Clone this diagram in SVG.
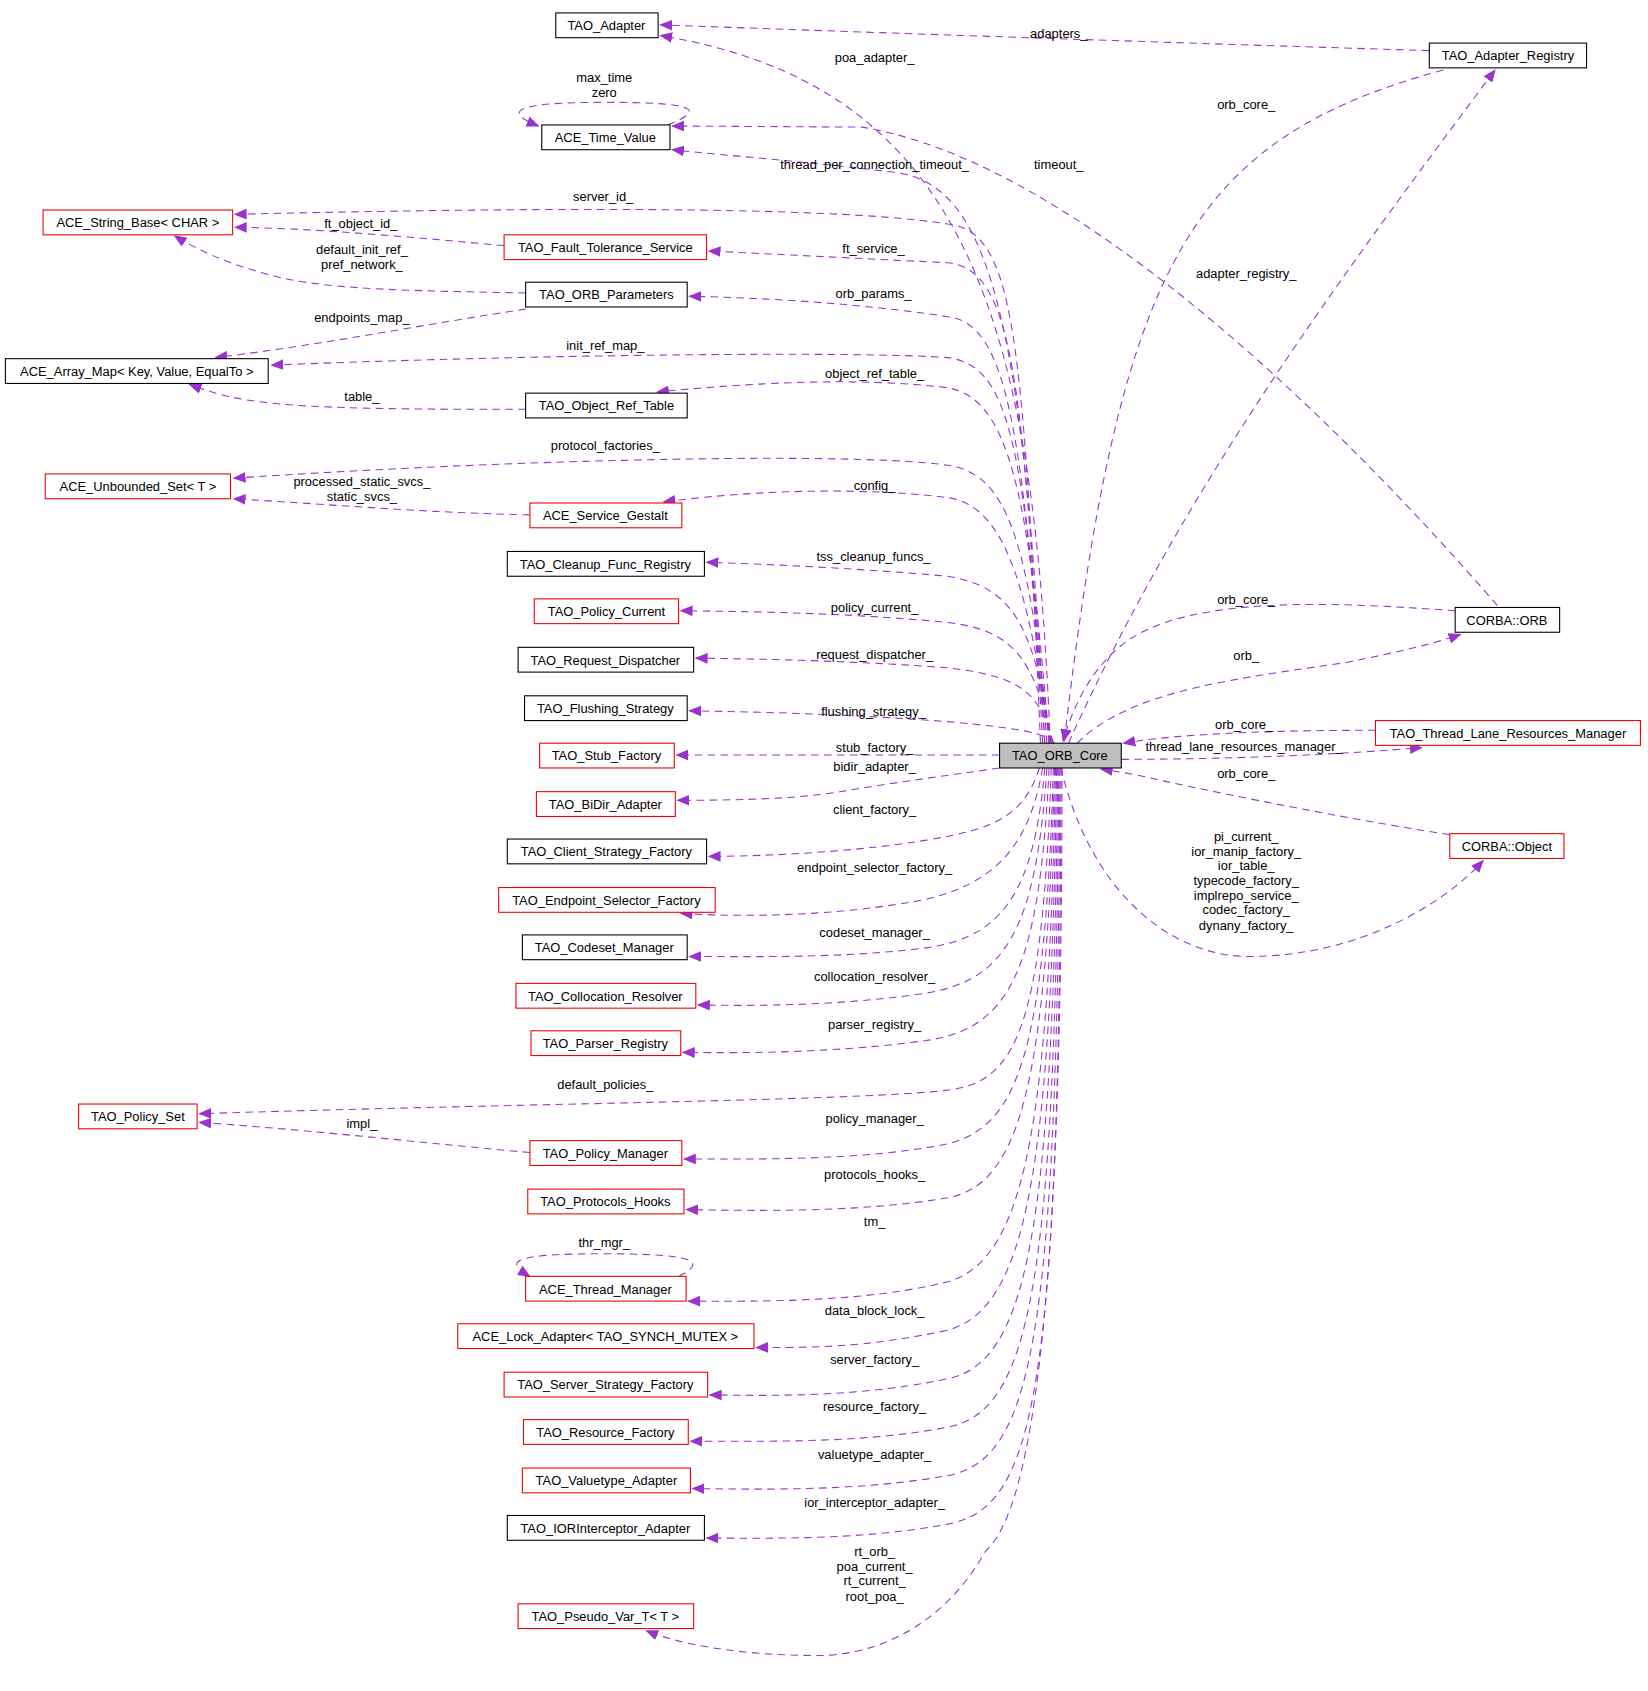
<svg xmlns="http://www.w3.org/2000/svg" width="1648" height="1691" viewBox="0 0 1648 1691">
<style>
.n rect{fill:#fff;stroke:#000;stroke-width:1}
.r rect{stroke:#e00}
.c rect{fill:#bfbfbf}
text{font-family:"Liberation Sans",Arial,sans-serif;font-size:12px;text-anchor:middle;fill:#000}
.e path{fill:none;stroke:#9a32cd;stroke-width:1;stroke-dasharray:7,5;marker-end:url(#a)}
</style>
<defs><marker id="a" markerWidth="12" markerHeight="10" refX="11" refY="5" orient="auto" markerUnits="userSpaceOnUse"><path d="M0,0 L12,5 L0,10 z" fill="#9a32cd"/></marker></defs>
<rect width="1648" height="1691" fill="#fff"/>
<g transform="scale(1.0771)">
<g class="e">
<path d="M1327,47 C1100,40 800,30 613,23"/>
<path d="M975,690 C960,300 900,80 613,33"/>
<path d="M1340,65 C1100,130 1040,250 988,688"/>
<path d="M992,690 C1100,450 1250,250 1388,65"/>
<path d="M1390,562 C1250,400 1000,150 800,118 L624,117"/>
<path d="M620,116 C660,100 640,95 560,95 C470,95 470,105 500,117"/>
<path d="M970,690 C950,300 920,170 830,160 C750,150 680,145 624,139"/>
<path d="M966,690 C950,300 940,215 880,208 C800,195 600,190 218,199"/>
<path d="M468,228 C400,222 300,212 218,211"/>
<path d="M968,690 C950,350 940,250 880,244 C800,240 720,236 658,233"/>
<path d="M488,272 C400,270 300,270 250,255 C210,245 180,230 162,219"/>
<path d="M488,287 C400,300 300,320 200,332"/>
<path d="M970,690 C950,400 935,300 880,294 C800,282 720,277 640,275"/>
<path d="M972,690 C950,400 935,340 880,332 C800,326 500,329 252,339"/>
<path d="M974,690 C955,450 935,370 880,360 C800,350 700,355 610,364"/>
<path d="M488,380 C400,380 300,380 250,374 C210,370 190,362 176,357"/>
<path d="M974,690 C955,500 935,440 880,432 C800,420 500,425 217,444"/>
<path d="M492,478 C400,476 330,470 217,463"/>
<path d="M975,690 C955,550 935,470 880,462 C800,452 700,455 616,466"/>
<path d="M976,690 C960,580 940,545 880,535 C800,528 720,524 656,522"/>
<path d="M977,690 C960,610 940,585 880,578 C800,570 720,568 632,567"/>
<path d="M978,690 C965,640 945,628 880,620 C800,614 720,612 646,611"/>
<path d="M979,690 C970,680 945,676 880,670 C800,664 720,661 640,660"/>
<path d="M928,701 L628,701"/>
<path d="M928,713 C880,720 840,725 780,735 C740,742 680,743 629,743"/>
<path d="M965,713 C950,760 920,770 860,780 C800,790 720,795 658,795"/>
<path d="M968,713 C955,790 920,820 860,835 C780,850 700,852 632,848"/>
<path d="M970,713 C960,830 930,870 860,880 C780,890 700,888 640,888"/>
<path d="M972,713 C962,860 935,910 860,922 C780,934 700,934 648,933"/>
<path d="M974,713 C965,900 938,955 860,966 C780,977 700,978 634,977"/>
<path d="M976,713 C968,950 945,1005 880,1012 C800,1022 500,1024 185,1034"/>
<path d="M492,1070 C400,1062 300,1050 185,1042"/>
<path d="M978,713 C970,980 945,1045 880,1062 C800,1078 700,1076 635,1076"/>
<path d="M979,713 C972,1000 948,1100 880,1112 C800,1126 700,1124 637,1123"/>
<path d="M980,713 C974,1050 950,1170 880,1190 C800,1210 700,1208 639,1208"/>
<path d="M630,1185 C660,1170 640,1164 560,1164 C470,1164 470,1172 492,1185"/>
<path d="M981,713 C976,1100 950,1215 880,1235 C800,1252 750,1251 702,1251"/>
<path d="M982,713 C978,1150 952,1265 880,1280 C800,1297 720,1296 659,1295"/>
<path d="M983,713 C980,1200 955,1310 880,1325 C800,1340 720,1338 641,1338"/>
<path d="M984,713 C982,1250 957,1355 880,1370 C800,1384 720,1383 643,1382"/>
<path d="M985,713 C984,1300 960,1400 880,1415 C800,1430 720,1428 656,1428"/>
<path d="M986,713 C986,1200 960,1400 915,1440 C870,1520 800,1537 760,1537 C700,1537 640,1530 600,1514"/>
<path d="M1351,567 C1250,560 1100,550 1040,600 C1010,625 995,660 987,688"/>
<path d="M1000,690 C1050,640 1150,630 1250,615 C1300,605 1330,598 1356,589"/>
<path d="M1277,678 C1200,678 1100,680 1043,690"/>
<path d="M1041,705 C1150,705 1250,700 1320,694"/>
<path d="M1346,775 C1250,760 1150,740 1080,725 C1050,718 1030,715 1022,714"/>
<path d="M985,713 C1010,820 1080,888 1160,888 C1260,888 1340,840 1377,799"/>
</g>
<g>
<text x="983" y="35">adapters_</text>
<text x="812" y="58">poa_adapter_</text>
<text x="1157" y="101">orb_core_</text>
<text x="1157" y="258">adapter_registry_</text>
<text x="983" y="157">timeout_</text>
<text x="561" y="76">max_time</text>
<text x="561" y="90">zero</text>
<text x="812" y="157">thread_per_connection_timeout_</text>
<text x="560" y="187">server_id_</text>
<text x="335" y="212">ft_object_id_</text>
<text x="811" y="235">ft_service_</text>
<text x="336" y="236">default_init_ref_</text>
<text x="336" y="250">pref_network_</text>
<text x="336" y="299">endpoints_map_</text>
<text x="811" y="277">orb_params_</text>
<text x="562" y="325">init_ref_map_</text>
<text x="812" y="351">object_ref_table_</text>
<text x="336" y="372">table_</text>
<text x="562" y="418">protocol_factories_</text>
<text x="336" y="451">processed_static_svcs_</text>
<text x="336" y="465">static_svcs_</text>
<text x="812" y="455">config_</text>
<text x="811" y="521">tss_cleanup_funcs_</text>
<text x="812" y="568">policy_current_</text>
<text x="812" y="612">request_dispatcher_</text>
<text x="811" y="665">flushing_strategy_</text>
<text x="812" y="698">stub_factory_</text>
<text x="812" y="716">bidir_adapter_</text>
<text x="812" y="756">client_factory_</text>
<text x="812" y="810">endpoint_selector_factory_</text>
<text x="812" y="870">codeset_manager_</text>
<text x="812" y="911">collocation_resolver_</text>
<text x="812" y="955">parser_registry_</text>
<text x="562" y="1011">default_policies_</text>
<text x="336" y="1047">impl_</text>
<text x="812" y="1043">policy_manager_</text>
<text x="812" y="1095">protocols_hooks_</text>
<text x="812" y="1138">tm_</text>
<text x="561" y="1158">thr_mgr_</text>
<text x="812" y="1221">data_block_lock_</text>
<text x="812" y="1266">server_factory_</text>
<text x="812" y="1310">resource_factory_</text>
<text x="812" y="1355">valuetype_adapter_</text>
<text x="812" y="1399">ior_interceptor_adapter_</text>
<text x="812" y="1445">rt_orb_</text>
<text x="812" y="1459">poa_current_</text>
<text x="812" y="1472">rt_current_</text>
<text x="812" y="1486">root_poa_</text>
<text x="1157" y="561">orb_core_</text>
<text x="1157" y="613">orb_</text>
<text x="1155" y="677">orb_core_</text>
<text x="1155" y="697">thread_lane_resources_manager_</text>
<text x="1157" y="722">orb_core_</text>
<text x="1157" y="781">pi_current_</text>
<text x="1157" y="795">ior_manip_factory_</text>
<text x="1157" y="808">ior_table_</text>
<text x="1157" y="822">typecode_factory_</text>
<text x="1157" y="836">implrepo_service_</text>
<text x="1157" y="849">codec_factory_</text>
<text x="1157" y="863">dynany_factory_</text>
</g>
<g id="n_adapter" class="n"><rect x="516" y="12" width="95" height="23"/><text x="563" y="28">TAO_Adapter</text></g>
<g id="n_adreg" class="n"><rect x="1327" y="40" width="146" height="23"/><text x="1400" y="56">TAO_Adapter_Registry</text></g>
<g id="n_time" class="n"><rect x="503" y="116" width="119" height="23"/><text x="562" y="132">ACE_Time_Value</text></g>
<g id="n_strbase" class="n r"><rect x="40" y="195" width="176" height="23"/><text x="128" y="211">ACE_String_Base&lt; CHAR &gt;</text></g>
<g id="n_fts" class="n r"><rect x="468" y="218" width="188" height="23"/><text x="562" y="234">TAO_Fault_Tolerance_Service</text></g>
<g id="n_orbparams" class="n"><rect x="488" y="262" width="150" height="23"/><text x="563" y="278">TAO_ORB_Parameters</text></g>
<g id="n_arraymap" class="n"><rect x="5" y="333" width="244" height="23"/><text x="127" y="349">ACE_Array_Map&lt; Key, Value, EqualTo &gt;</text></g>
<g id="n_ort" class="n"><rect x="488" y="365" width="150" height="23"/><text x="563" y="381">TAO_Object_Ref_Table</text></g>
<g id="n_uset" class="n r"><rect x="42" y="440" width="172" height="23"/><text x="128" y="456">ACE_Unbounded_Set&lt; T &gt;</text></g>
<g id="n_gestalt" class="n r"><rect x="492" y="467" width="141" height="23"/><text x="562" y="483">ACE_Service_Gestalt</text></g>
<g id="n_cleanup" class="n"><rect x="471" y="512" width="183" height="23"/><text x="562" y="528">TAO_Cleanup_Func_Registry</text></g>
<g id="n_polcur" class="n r"><rect x="496" y="556" width="134" height="23"/><text x="563" y="572">TAO_Policy_Current</text></g>
<g id="n_reqdisp" class="n"><rect x="481" y="601" width="163" height="23"/><text x="562" y="617">TAO_Request_Dispatcher</text></g>
<g id="n_flush" class="n"><rect x="487" y="646" width="151" height="23"/><text x="562" y="662">TAO_Flushing_Strategy</text></g>
<g id="n_stub" class="n r"><rect x="501" y="690" width="125" height="23"/><text x="563" y="706">TAO_Stub_Factory</text></g>
<g id="n_bidir" class="n r"><rect x="498" y="735" width="129" height="23"/><text x="562" y="751">TAO_BiDir_Adapter</text></g>
<g id="n_client" class="n"><rect x="471" y="779" width="185" height="23"/><text x="563" y="795">TAO_Client_Strategy_Factory</text></g>
<g id="n_endpoint" class="n r"><rect x="463" y="824" width="201" height="23"/><text x="563" y="840">TAO_Endpoint_Selector_Factory</text></g>
<g id="n_codeset" class="n"><rect x="485" y="868" width="153" height="23"/><text x="561" y="884">TAO_Codeset_Manager</text></g>
<g id="n_colloc" class="n r"><rect x="479" y="913" width="167" height="23"/><text x="562" y="929">TAO_Collocation_Resolver</text></g>
<g id="n_parser" class="n r"><rect x="493" y="957" width="139" height="23"/><text x="562" y="973">TAO_Parser_Registry</text></g>
<g id="n_polset" class="n r"><rect x="73" y="1025" width="110" height="23"/><text x="128" y="1041">TAO_Policy_Set</text></g>
<g id="n_polmgr" class="n r"><rect x="492" y="1059" width="141" height="23"/><text x="562" y="1075">TAO_Policy_Manager</text></g>
<g id="n_prothooks" class="n r"><rect x="490" y="1104" width="145" height="23"/><text x="562" y="1120">TAO_Protocols_Hooks</text></g>
<g id="n_thrmgr" class="n r"><rect x="488" y="1185" width="149" height="23"/><text x="562" y="1201">ACE_Thread_Manager</text></g>
<g id="n_lock" class="n r"><rect x="425" y="1229" width="275" height="23"/><text x="562" y="1245">ACE_Lock_Adapter&lt; TAO_SYNCH_MUTEX &gt;</text></g>
<g id="n_server" class="n r"><rect x="468" y="1274" width="189" height="23"/><text x="562" y="1290">TAO_Server_Strategy_Factory</text></g>
<g id="n_resource" class="n r"><rect x="486" y="1318" width="153" height="23"/><text x="562" y="1334">TAO_Resource_Factory</text></g>
<g id="n_valuetype" class="n r"><rect x="485" y="1363" width="156" height="23"/><text x="563" y="1379">TAO_Valuetype_Adapter</text></g>
<g id="n_ior" class="n"><rect x="471" y="1407" width="183" height="23"/><text x="562" y="1423">TAO_IORInterceptor_Adapter</text></g>
<g id="n_pseudo" class="n r"><rect x="481" y="1489" width="163" height="23"/><text x="562" y="1505">TAO_Pseudo_Var_T&lt; T &gt;</text></g>
<g id="n_core" class="n c"><rect x="928" y="690" width="113" height="23"/><text x="984" y="706">TAO_ORB_Core</text></g>
<g id="n_orb" class="n"><rect x="1351" y="564" width="97" height="23"/><text x="1399" y="580">CORBA::ORB</text></g>
<g id="n_tlrm" class="n r"><rect x="1277" y="669" width="246" height="23"/><text x="1400" y="685">TAO_Thread_Lane_Resources_Manager</text></g>
<g id="n_object" class="n r"><rect x="1346" y="774" width="106" height="23"/><text x="1399" y="790">CORBA::Object</text></g>
</g>
</svg>
